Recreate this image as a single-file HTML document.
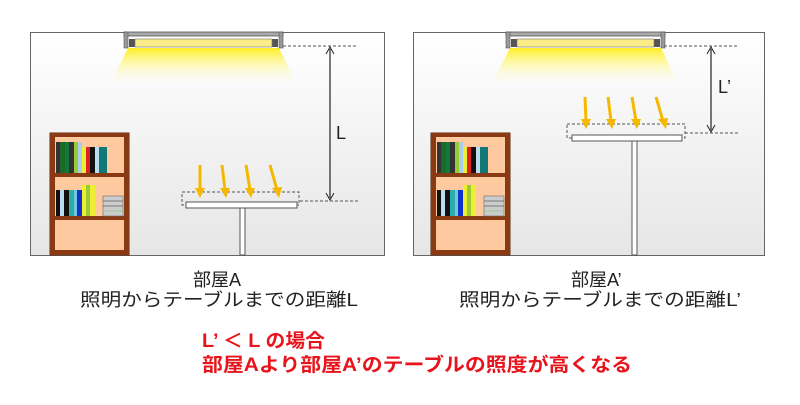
<!DOCTYPE html>
<html><head><meta charset="utf-8"><style>
body{margin:0;background:#fff;width:800px;height:400px;overflow:hidden}
svg text{font-family:"Liberation Sans","Noto Sans CJK JP",sans-serif}
</style></head><body>
<svg width="800" height="400" viewBox="0 0 800 400" xmlns="http://www.w3.org/2000/svg">
<defs>
<linearGradient id="wall" x1="0" y1="0" x2="0" y2="1"><stop offset="0" stop-color="#fff"/><stop offset="1" stop-color="#e6e6e6"/></linearGradient>
<linearGradient id="glow" x1="0" y1="0" x2="0" y2="1"><stop offset="0" stop-color="#ffee22"/><stop offset="1" stop-color="#ffffdd" stop-opacity="0"/></linearGradient>
<g id="shelf">
<rect x="0" y="0" width="79" height="122" fill="#ffc9a0" stroke="#5a2a10" stroke-width="1"/>
<rect x="0" y="0" width="79" height="4" fill="#8a3a12"/>
<rect x="0" y="0" width="5" height="122" fill="#8a3a12"/>
<rect x="74" y="0" width="5" height="122" fill="#8a3a12"/>
<rect x="0" y="117" width="79" height="5" fill="#8a3a12"/>
<rect x="0" y="40" width="79" height="4" fill="#8a3a12"/>
<rect x="0" y="83" width="79" height="4" fill="#8a3a12"/>
<rect x="6" y="9" width="4" height="31" fill="#333"/><rect x="10" y="9" width="5" height="31" fill="#1a6a2a"/><rect x="15" y="9" width="4" height="31" fill="#117a3a"/><rect x="19" y="9" width="5" height="31" fill="#333"/><rect x="24" y="9" width="4" height="31" fill="#9c3"/><rect x="28" y="9" width="4" height="31" fill="#ace"/><rect x="32" y="14" width="4" height="26" fill="#ee3"/><rect x="36" y="14" width="4" height="26" fill="#d22"/><rect x="40" y="14" width="5" height="26" fill="#111"/><rect x="45" y="14" width="4" height="26" fill="#bde"/><rect x="49" y="14" width="8" height="26" fill="#177"/>
<rect x="6" y="57" width="4" height="26" fill="#111"/><rect x="10" y="57" width="4" height="26" fill="#bde"/><rect x="14" y="57" width="5" height="26" fill="#111"/><rect x="19" y="57" width="5" height="26" fill="#3aa"/><rect x="24" y="57" width="3" height="26" fill="#6cd"/><rect x="27" y="57" width="5" height="26" fill="#13c"/><rect x="32" y="52" width="4" height="31" fill="#ee3"/><rect x="36" y="52" width="4" height="31" fill="#9c3"/><rect x="40" y="52" width="5" height="31" fill="#ee3"/>
<rect x="53" y="63" width="20" height="20" fill="#ccc" stroke="#666" stroke-width="0.6"/><line x1="53" y1="68" x2="73" y2="68" stroke="#777"/><line x1="53" y1="73" x2="73" y2="73" stroke="#777"/><line x1="53" y1="78" x2="73" y2="78" stroke="#9c9"/>
</g>
<g id="fix">
<polygon points="4,16 155,16 172,52 -14,52" fill="url(#glow)"/>
<rect x="0" y="0" width="159" height="4" fill="#aaa" stroke="#555" stroke-width="0.8"/>
<rect x="0" y="0" width="4" height="16" fill="#999" stroke="#555" stroke-width="0.6"/>
<rect x="155" y="0" width="4" height="16" fill="#999" stroke="#555" stroke-width="0.6"/>
<rect x="5" y="7" width="6" height="8" fill="#555"/><rect x="148" y="7" width="6" height="8" fill="#555"/>
<rect x="11" y="7" width="137" height="8" fill="#fbec88" stroke="#777" stroke-width="0.6"/>
</g>
</defs>
<!-- Room A -->
<rect x="30.5" y="32.5" width="354" height="223" fill="url(#wall)" stroke="#666"/>
<use href="#fix" x="124" y="32"/>
<use href="#shelf" x="50" y="133"/>
<g stroke="#555" stroke-dasharray="3,2" fill="none">
<line x1="283" y1="46" x2="358" y2="46"/><line x1="300" y1="201" x2="358" y2="201"/>
<rect x="182" y="192" width="117" height="13"/>
</g>
<rect x="186" y="202" width="111" height="6" fill="#fff" stroke="#555"/>
<rect x="240" y="208" width="5" height="47" fill="#fff" stroke="#555"/>
<line x1="330" y1="49" x2="330" y2="198" stroke="#222" stroke-width="1.2"/>
<path d="M326,54 L330,47 L334,54 M326,193 L330,200 L334,193" stroke="#222" fill="none"/>
<text x="336" y="139" font-size="18" fill="#222">L</text>
<g stroke="#f5b800" stroke-width="3" fill="#f5b800">
<line x1="200" y1="165" x2="200" y2="190"/><line x1="222" y1="165" x2="225" y2="190"/><line x1="246" y1="165" x2="250" y2="190"/><line x1="270" y1="165" x2="277" y2="190"/>
</g>
<g fill="#f5b800"><polygon points="195,188 205,188 200,198"/><polygon points="220,188 230,188 226,198"/><polygon points="245,188 255,188 251,198"/><polygon points="272,188 282,187 279,198"/></g>
<!-- Room B -->
<rect x="413.5" y="32.5" width="351" height="223" fill="url(#wall)" stroke="#666"/>
<use href="#fix" x="506" y="32"/>
<use href="#shelf" x="431" y="133"/>
<g stroke="#555" stroke-dasharray="3,2" fill="none">
<line x1="664" y1="46" x2="738" y2="46"/><line x1="685" y1="133" x2="738" y2="133"/>
<rect x="567" y="124" width="118" height="14"/>
</g>
<rect x="572" y="135" width="110" height="6" fill="#fff" stroke="#555"/>
<rect x="632" y="141" width="5" height="114" fill="#fff" stroke="#555"/>
<line x1="711" y1="49" x2="711" y2="130" stroke="#222" stroke-width="1.2"/>
<path d="M707,54 L711,47 L715,54 M707,125 L711,132 L715,125" stroke="#222" fill="none"/>
<text x="718" y="93" font-size="18" fill="#222">L’</text>
<g stroke="#f5b800" stroke-width="3">
<line x1="585" y1="97" x2="586" y2="121"/><line x1="608" y1="97" x2="611" y2="121"/><line x1="632" y1="97" x2="636" y2="121"/><line x1="656" y1="97" x2="663" y2="121"/>
</g>
<g fill="#f5b800"><polygon points="581,119 591,119 586,129"/><polygon points="606,119 616,119 612,129"/><polygon points="631,119 641,119 637,129"/><polygon points="658,119 668,118 666,129"/></g>
<!-- labels -->
<g font-size="18" fill="#222">
<text x="193" y="286">部屋A</text>
<text x="80" y="306" textLength="278" lengthAdjust="spacingAndGlyphs">照明からテーブルまでの距離L</text>
<text x="571" y="286">部屋A’</text>
<text x="459" y="306" textLength="282" lengthAdjust="spacingAndGlyphs">照明からテーブルまでの距離L’</text>
</g>
<g font-size="19" fill="#e8141c" font-weight="bold">
<text x="202" y="347" textLength="123" lengthAdjust="spacingAndGlyphs">L’ ＜ L の場合</text>
<text x="202" y="371" textLength="430" lengthAdjust="spacingAndGlyphs">部屋Aより部屋A’のテーブルの照度が高くなる</text>
</g>
</svg>
</body></html>
